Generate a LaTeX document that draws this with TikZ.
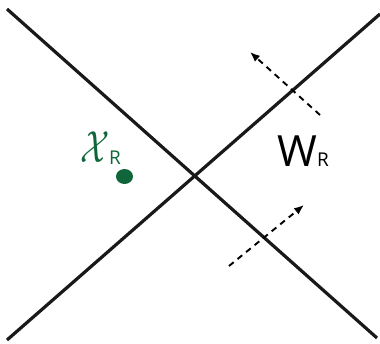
\documentclass[tikz,border=0pt]{standalone}
\usepackage{amsmath}
\usepackage{fontspec}
\setmainfont{Open Sans}
\usetikzlibrary{arrows.meta}
\definecolor{dkgreen}{RGB}{16,102,58}
\tikzset{
  wall/.style={line width=3.2pt, black!90},
  flux/.style={line width=1.9pt, dash pattern=on 6pt off 5pt, -{Latex[length=10pt,width=8pt]}},
  lbl/.style={inner sep=0pt, anchor=base west}
}
\begin{document}
\begin{tikzpicture}[x=1pt,y=1pt]
\useasboundingbox (0,0) rectangle (380,343);
\coordinate (a1) at (7,334);
\coordinate (a2) at (377,5);
\coordinate (b1) at (7,3);
\coordinate (b2) at (380,329);
\draw[wall] (a1) -- (a2);
\draw[wall] (b1) -- (b2);
\coordinate (u1) at (320,228);
\coordinate (u2) at (250,291);
\coordinate (l1) at (229,77);
\coordinate (l2) at (304,138);
\draw[flux] (u1) -- (u2);
\draw[flux] (l1) -- (l2);
\node[lbl, text=dkgreen] (xs) at (80,181) {\scalebox{3.4}[4.5]{$\mathcal{X}$}};
\node[lbl, text=dkgreen, font=\fontsize{19}{19}\selectfont] (xr) at (109,178) {R};
\fill[dkgreen] (124.5,166.5) ellipse [x radius=8.5, y radius=7.5];
\node[lbl, font=\fontsize{43}{43}\selectfont] (wr) at (277,176) {W\fontsize{19}{19}\selectfont R};
\end{tikzpicture}
\end{document}
